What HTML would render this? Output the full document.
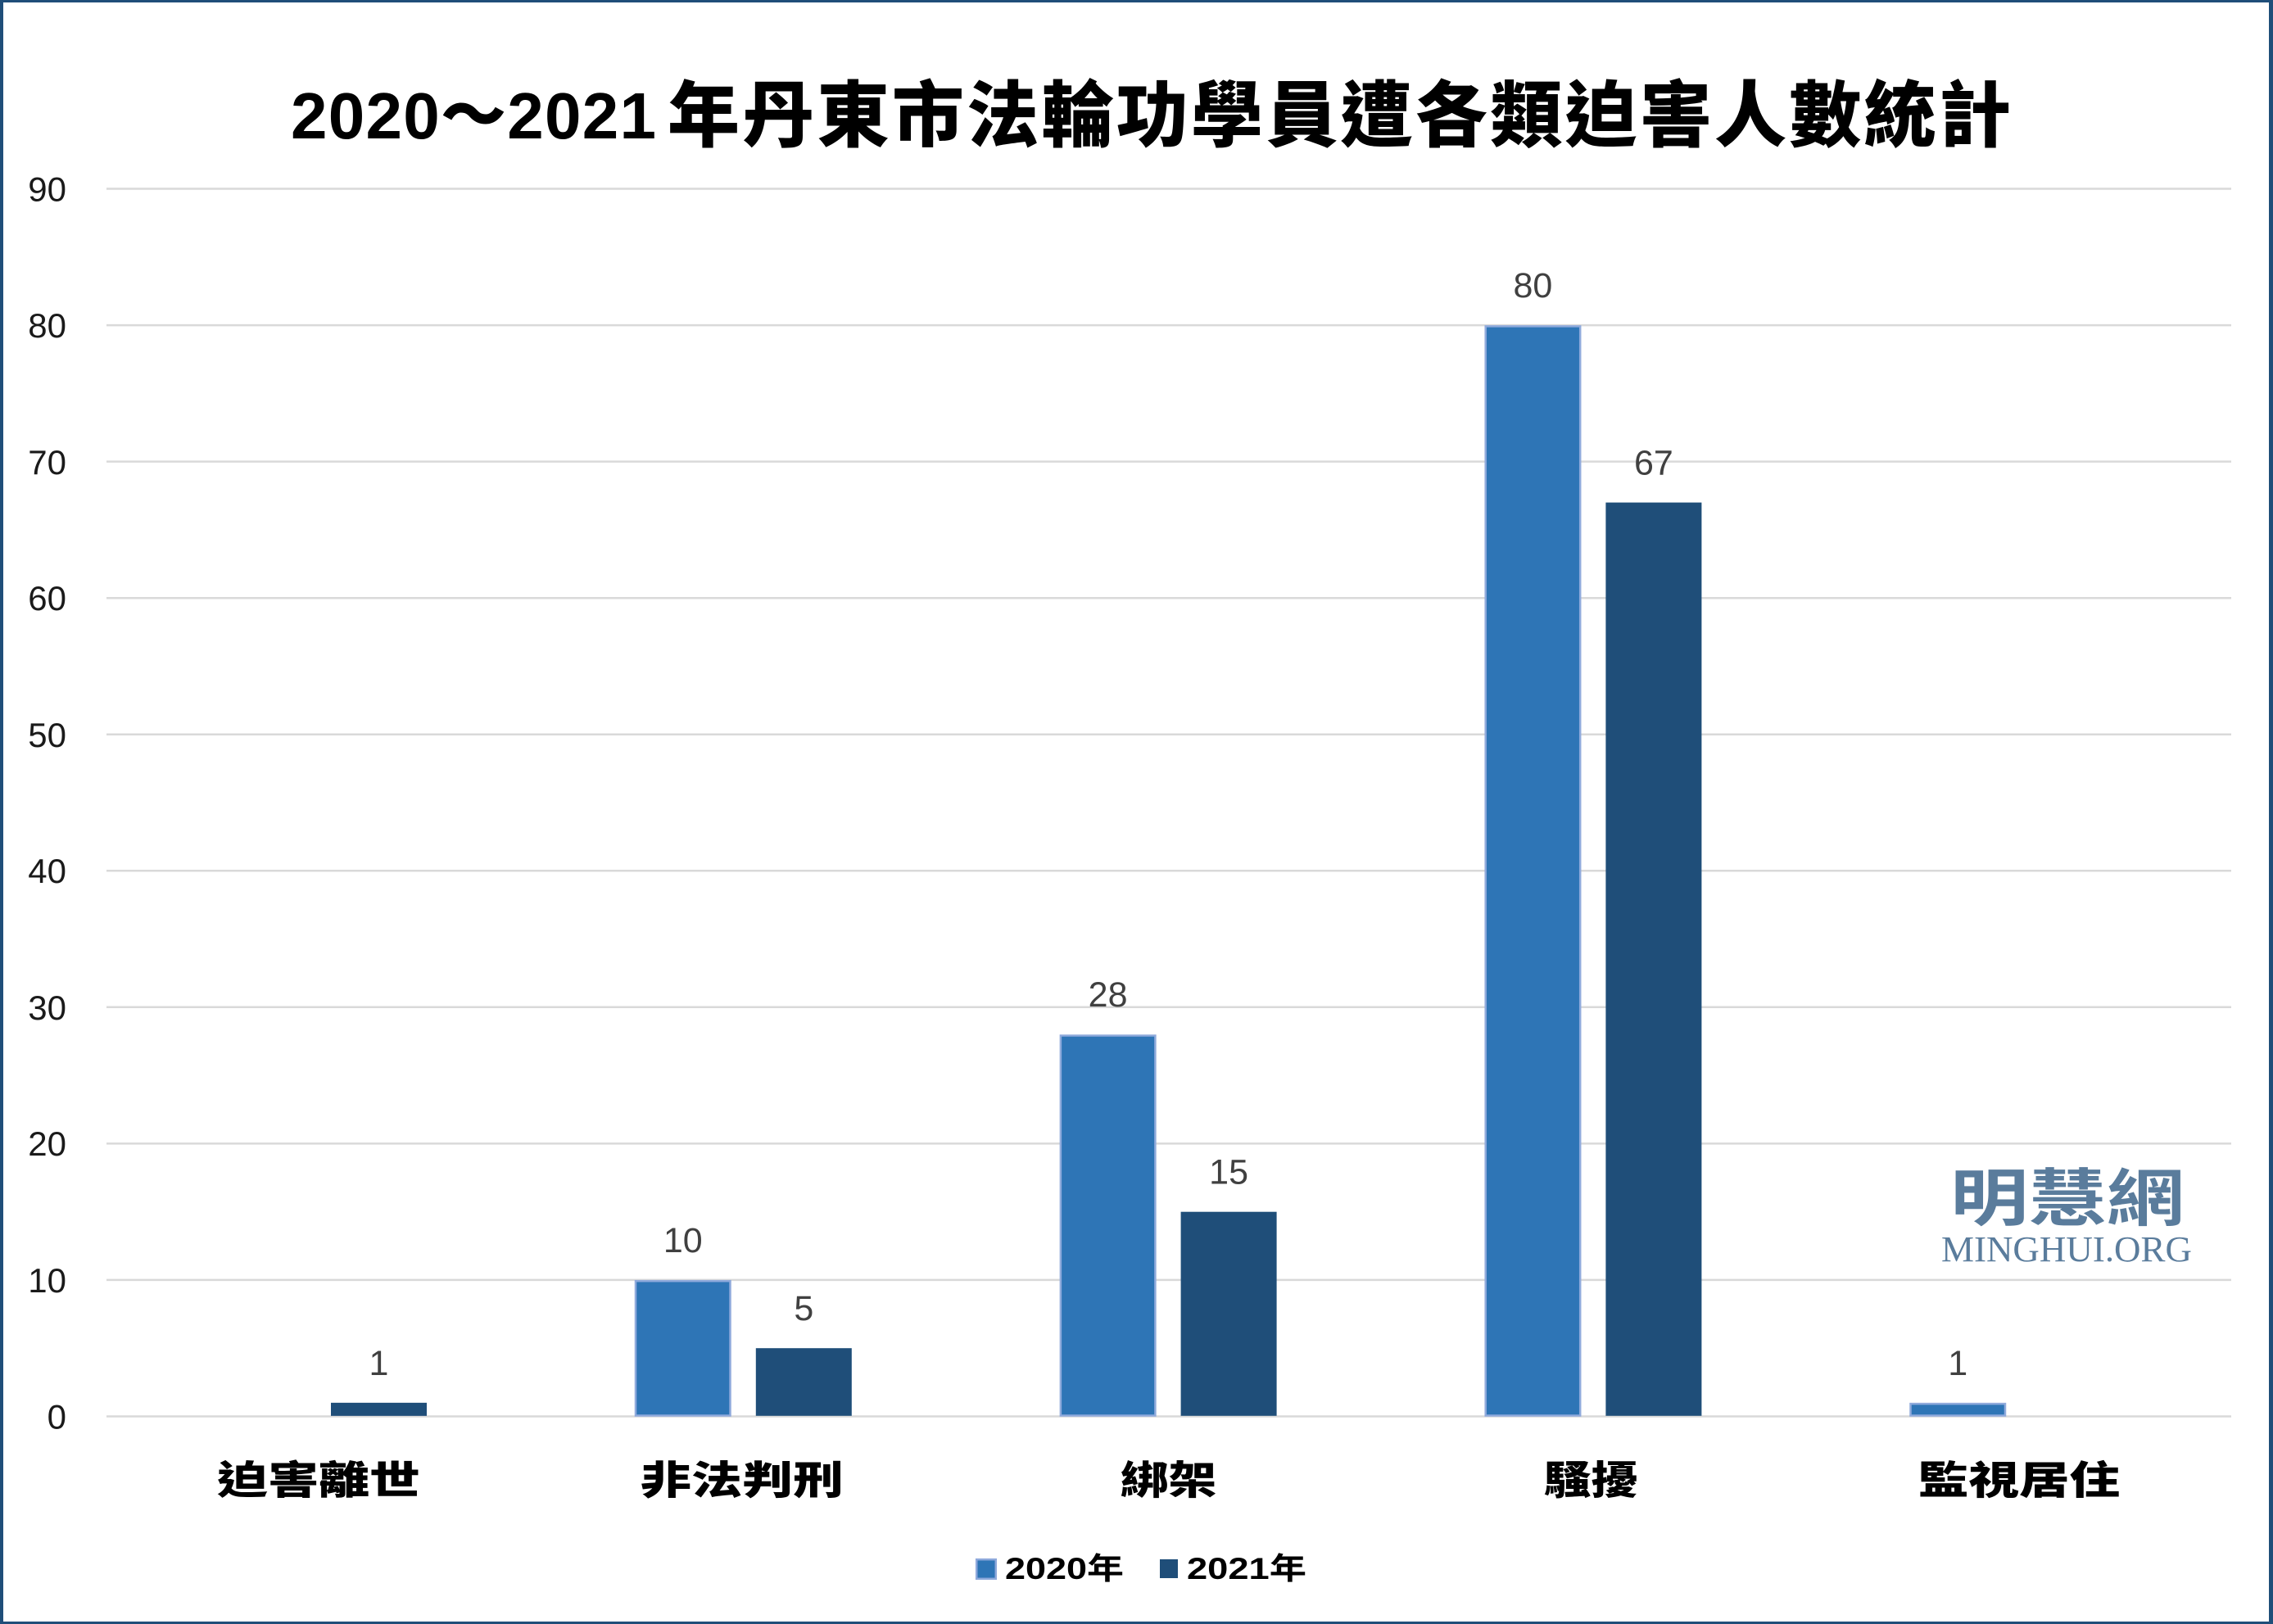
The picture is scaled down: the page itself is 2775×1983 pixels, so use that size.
<!DOCTYPE html>
<html>
<head>
<meta charset="utf-8">
<style>
  html,body{margin:0;padding:0;background:#fff;}
  svg{display:block;}
</style>
</head>
<body>
<svg width="2775" height="1983" viewBox="0 0 2775 1983" xmlns="http://www.w3.org/2000/svg">
  <!-- frame -->
  <rect x="0" y="0" width="2775" height="1983" fill="#1F4E79"/>
  <rect x="4" y="3" width="2766" height="1977" fill="#ffffff"/>

  <!-- title -->
  <g font-family="'Liberation Sans','Noto Sans CJK TC',sans-serif" font-weight="900" fill="#000">
    <text x="355" y="169" font-size="80" textLength="446" lengthAdjust="spacing">2020～2021</text>
    <text x="815" y="172" font-size="88" font-family="'Noto Sans CJK TC','Noto Sans CJK JP',sans-serif" textLength="1640" lengthAdjust="spacing">年丹東市法輪功學員遭各類迫害人數統計</text>
  </g>

  <!-- gridlines -->
  <g stroke="#d9d9d9" stroke-width="2.5">
    <line x1="130" x2="2724" y1="1729.5" y2="1729.5"/>
    <line x1="130" x2="2724" y1="1562.9" y2="1562.9"/>
    <line x1="130" x2="2724" y1="1396.4" y2="1396.4"/>
    <line x1="130" x2="2724" y1="1229.8" y2="1229.8"/>
    <line x1="130" x2="2724" y1="1063.3" y2="1063.3"/>
    <line x1="130" x2="2724" y1="896.7" y2="896.7"/>
    <line x1="130" x2="2724" y1="730.2" y2="730.2"/>
    <line x1="130" x2="2724" y1="563.6" y2="563.6"/>
    <line x1="130" x2="2724" y1="397.1" y2="397.1"/>
    <line x1="130" x2="2724" y1="230.5" y2="230.5"/>
  </g>

  <!-- y labels -->
  <g font-family="'Liberation Sans',sans-serif" font-size="42" fill="#1a1a1a" text-anchor="end">
    <text x="81" y="1744.5">0</text>
    <text x="81" y="1578">10</text>
    <text x="81" y="1411">20</text>
    <text x="81" y="1245">30</text>
    <text x="81" y="1078">40</text>
    <text x="81" y="912">50</text>
    <text x="81" y="745">60</text>
    <text x="81" y="579">70</text>
    <text x="81" y="412">80</text>
    <text x="81" y="245.5">90</text>
  </g>

  <!-- bars 2020 -->
  <g fill="#2E75B6" stroke="#8FAADC" stroke-width="2.5">
    <rect x="776" y="1564.2" width="115.5" height="164.3"/>
    <rect x="1294.9" y="1264.5" width="115.5" height="464"/>
    <rect x="1813.7" y="398.4" width="115.5" height="1330.1"/>
    <rect x="2332.5" y="1714.1" width="115.5" height="14.4"/>
  </g>
  <!-- bars 2021 -->
  <g fill="#1F4E79">
    <rect x="404" y="1712.85" width="117" height="16"/>
    <rect x="922.8" y="1646.2" width="117" height="82.6"/>
    <rect x="1441.6" y="1479.7" width="117" height="249.1"/>
    <rect x="1960.4" y="613.6" width="117" height="1115.2"/>
  </g>

  <!-- data labels -->
  <g font-family="'Liberation Sans',sans-serif" font-size="43" fill="#404040" text-anchor="middle">
    <text x="462.5" y="1678.8">1</text>
    <text x="833.8" y="1529">10</text>
    <text x="981.3" y="1612.2">5</text>
    <text x="1352.6" y="1229.2">28</text>
    <text x="1500.1" y="1445.7">15</text>
    <text x="1871.4" y="363.1">80</text>
    <text x="2018.9" y="579.6">67</text>
    <text x="2390.2" y="1678.8">1</text>
  </g>

  <!-- category labels -->
  <g font-family="'Noto Sans CJK TC','Noto Sans CJK JP',sans-serif" font-weight="900" font-size="60" fill="#000">
    <text transform="translate(265,1824) scale(1,0.8)" x="0" y="0" textLength="248" lengthAdjust="spacingAndGlyphs">迫害離世</text>
    <text transform="translate(782,1824) scale(1,0.8)" x="0" y="0" textLength="248" lengthAdjust="spacingAndGlyphs">非法判刑</text>
    <text transform="translate(1368,1824) scale(1,0.8)" x="0" y="0" textLength="117" lengthAdjust="spacingAndGlyphs">綁架</text>
    <text transform="translate(1885,1824) scale(1,0.8)" x="0" y="0" textLength="115" lengthAdjust="spacingAndGlyphs">騷擾</text>
    <text transform="translate(2342,1824) scale(1,0.8)" x="0" y="0" textLength="246" lengthAdjust="spacingAndGlyphs">監視居住</text>
  </g>

  <!-- watermark -->
  <text x="2381" y="1490" font-family="'Noto Sans CJK TC','Noto Sans CJK JP',sans-serif" font-weight="700" font-size="76" fill="#5a7c9c" textLength="286" lengthAdjust="spacingAndGlyphs">明慧網</text>
  <text x="2370" y="1540" font-family="'Liberation Serif',serif" font-size="44" fill="#5a7c9c" textLength="306" lengthAdjust="spacingAndGlyphs">MINGHUI.ORG</text>

  <!-- legend -->
  <rect x="1192.2" y="1904.2" width="23.6" height="23.6" fill="#2E75B6" stroke="#8FAADC" stroke-width="2.5"/>
  <rect x="1416" y="1904" width="22" height="23" fill="#1F4E79"/>
  <g font-family="'Liberation Sans','Noto Sans CJK TC',sans-serif" font-weight="700" font-size="37" fill="#000">
    <text x="1227" y="1928" textLength="145" lengthAdjust="spacingAndGlyphs">2020年</text>
    <text x="1449" y="1928" textLength="146" lengthAdjust="spacingAndGlyphs">2021年</text>
  </g>
</svg>
</body>
</html>
